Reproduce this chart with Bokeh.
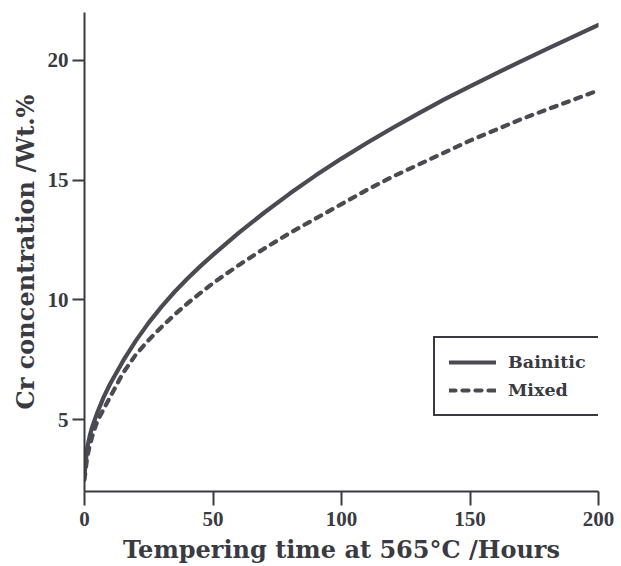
from bokeh.plotting import figure
from bokeh.models import Range1d, Legend, LegendItem, FixedTicker
from bokeh.embed import file_html
from bokeh.resources import INLINE

# Data
time_h = [0, 1, 2, 3, 5, 7.5, 10, 15, 20, 25, 30, 35, 40, 45, 50, 60, 70, 80, 90,
          100, 110, 120, 130, 140, 150, 160, 170, 180, 190, 200]
bainitic = [2.7, 3.8, 4.3, 4.7, 5.3, 5.95, 6.5, 7.45, 8.3, 9.05, 9.72, 10.33, 10.88, 11.4, 11.88,
            12.8, 13.65, 14.45, 15.2, 15.9, 16.56, 17.19, 17.79, 18.37, 18.92, 19.45, 19.97, 20.48, 20.98, 21.48]
mixed = [2.5, 3.4, 3.9, 4.3, 4.95, 5.45, 5.95, 6.95, 7.72, 8.33, 8.87, 9.38, 9.85, 10.28, 10.7,
         11.45, 12.15, 12.8, 13.4, 14.0, 14.6, 15.15, 15.65, 16.15, 16.65, 17.1, 17.55, 17.95, 18.35, 18.75]
x_ticks = [0, 50, 100, 150, 200]
y_ticks = [5, 10, 15, 20]
x_title = "Tempering time at 565°C /Hours"
y_title = "Cr concentration /Wt.%"
series_names = ["Bainitic", "Mixed"]

INK = "#3a3a42"
LINE = "#4a4a52"
TITLE_FONT = "DejaVu Serif"
TICK_FONT = "Liberation Serif"

p = figure(width=621, height=566, output_backend="svg", toolbar_location=None,
           x_range=Range1d(0, 200), y_range=Range1d(2, 22),
           min_border_left=84, min_border_right=23, min_border_top=12, min_border_bottom=74)
p.outline_line_color = None
p.xgrid.visible = False
p.ygrid.visible = False
p.background_fill_color = "white"
p.border_fill_color = "white"

r1 = p.line(time_h, bainitic, line_color=LINE, line_width=4.2, line_cap="round", line_join="round")
r2 = p.line(time_h, mixed, line_color=LINE, line_width=4.2, line_dash="6 7", line_cap="round", line_join="round")

p.xaxis.ticker = FixedTicker(ticks=x_ticks)
p.yaxis.ticker = FixedTicker(ticks=y_ticks)
p.xaxis.axis_label = x_title
p.yaxis.axis_label = y_title

for ax in (p.xaxis[0], p.yaxis[0]):
    ax.axis_line_color = INK
    ax.axis_line_width = 2
    ax.major_tick_line_color = INK
    ax.major_tick_line_width = 2
    ax.major_tick_in = 0
    ax.minor_tick_line_color = None
    ax.major_label_text_font = TICK_FONT
    ax.major_label_text_font_style = "bold"
    ax.major_label_text_font_size = "21px"
    ax.major_label_text_color = INK
    ax.axis_label_text_font = TITLE_FONT
    ax.axis_label_text_font_style = "bold"
    ax.axis_label_text_font_size = "24px"
    ax.axis_label_text_color = INK

p.xaxis.major_tick_out = 14
p.xaxis.major_label_standoff = 6
p.xaxis.axis_label_standoff = 6
p.yaxis.major_tick_out = 12
p.yaxis.major_label_standoff = 4
p.yaxis.axis_label_standoff = 5

legend = Legend(items=[LegendItem(label=series_names[0], renderers=[r1]),
                       LegendItem(label=series_names[1], renderers=[r2])],
                location=(349, 75))
legend.margin = 0
legend.padding = 14
legend.spacing = 8
legend.glyph_width = 47
legend.glyph_height = 20
legend.label_height = 20
legend.label_standoff = 12
legend.label_text_font = TITLE_FONT
legend.label_text_font_style = "bold"
legend.label_text_font_size = "17.5px"
legend.label_text_color = INK
legend.border_line_color = INK
legend.border_line_alpha = 1.0
legend.border_line_width = 2
legend.background_fill_color = "white"
legend.background_fill_alpha = 1
p.add_layout(legend, "center")

open("out.html", "w").write(file_html(p, INLINE))
